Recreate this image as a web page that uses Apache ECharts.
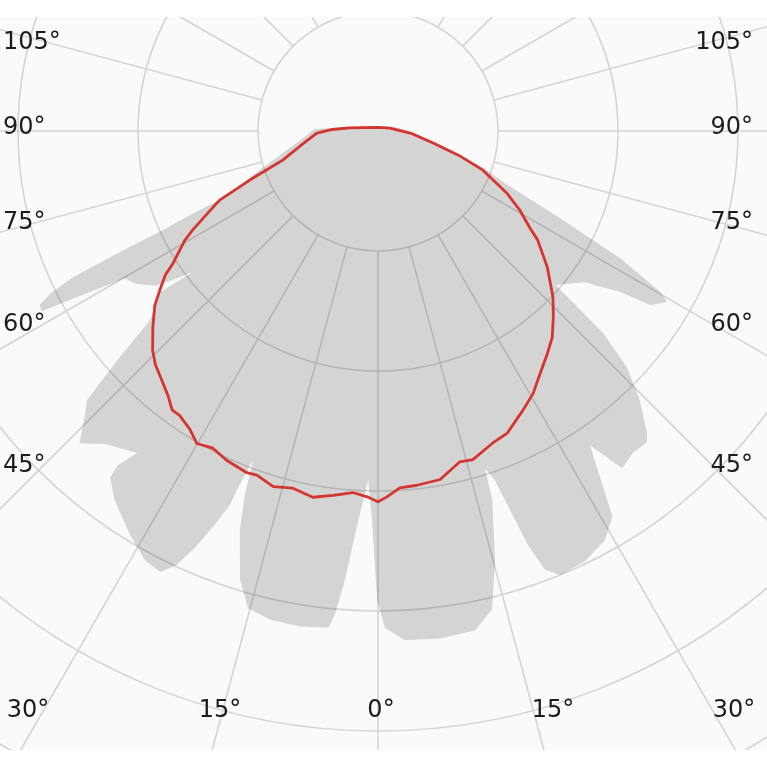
<!DOCTYPE html>
<html>
<head>
<meta charset="utf-8">
<script src="https://cdn.jsdelivr.net/npm/echarts@6/dist/echarts.min.js"></script>
<style>html,body{margin:0;padding:0;background:#fafafa}#c{width:767px;height:767px}</style>
</head>
<body>
<div id="c"></div>
<script>
// Photometric polar diagram. Angles in degrees from nadir (0 = down), right side negative.
const sideLabels = ['105°', '90°', '75°', '60°', '45°'];
const bottomLabels = ['30°', '15°', '0°', '15°', '30°'];

// Gray plane (filled)
const grayAngles = [-180,-103.2,-88.3,-79.1,-73.7,-70.4,-67.7,-64.45,-62.3,-60.3,-59.4,-57.4,-56.4,-54.8,-53.9,-49.1,-48.1,-46.5,-44.2,-41.7,-40.8,-38.4,-35.9,-34.0,-31.3,-29.0,-25.65,-22.3,-20.8,-19.9,-19.2,-18.5,-17.6,-17.2,-15.25,-13.4,-11.0,-7.0,-3.0,-0.8,0.1,0.9,1.6,2.9,4.2,5.1,5.7,9.0,12.5,15.25,17.1,19.1,20.1,20.8,21.5,21.6,22.5,23.7,25.0,26.3,28.5,31.5,35.5,37.7,37.9,36.8,41.1,43.7,45.1,47.25,48.7,50.3,53.55,52.7,54.1,55.2,57.8,59.8,60.8,61.8,62.8,63.6,64.4,64.9,65.3,65.9,66.7,70.2,76.2,83.4,91.8,98.1,180];
const grayValues = [4,15,28,48,71,95,114,168,228,271,280,269,242,224,214,196,252,286,313,337,343,342,347,316,376,390,398,400,391,367,334,307,295,322,371,410,424,426,425,414,391,324,291,325,375,405,416,418,417,412,391,352,323,293,323,335,355,379,400,410,407,395,378,365,353,335,346,360,347,330,289,247,226,194,212,226,239,244,275,318,317,305,282,237,197,172,139,113,84,65,53,24,4];

// Red plane (line)
const redAngles = [-180,-104,-86.4,-77.7,-73.3,-69.6,-64.3,-60.9,-57.5,-55.7,-51.2,-46.5,-43.3,-40.2,-37.3,-33.8,-30.6,-27.5,-23.1,-20.2,-16.1,-13.9,-10.1,-6.3,-3.5,-1.4,0,1.7,4.0,7.0,10.1,13.4,16.4,19.4,21.0,24.7,27.5,30.1,32.2,34.9,36.4,38.3,40.9,43.6,45.8,48.9,52.0,53.9,55.9,57.2,60.5,61.9,65.6,66.4,69.1,73.0,79.1,88.1,91.9,96.1,180];
const redValues = [3,10,27,47,70,93,119,135,150,161,181,201,213,225,233,243,254,262,274,277,285,284,295,297,298,305,309,305,302,306,310,306,309,304,305,302,298,301,294,289,289,282,275,269,262,249,236,225,214,203,185,175,149,144,114,83,66,51,38,24,3];

const CENTER = [378, 131];
const OUTER = 840;
const RMAX = 700;

const chart = echarts.init(document.getElementById('c'), null, {renderer: 'canvas'});
const toData = (angles, values) => angles.map((a, i) => [values[i], a]);

const gridLine = {show: true, lineStyle: {color: '#d4d4d4', width: 1.6}};
const textFont = '24px "DejaVu Sans"';

const graphics = [
  {type: 'rect', shape: {x: 0, y: 0, width: 767, height: 17}, style: {fill: '#ffffff'}, z: 100},
  {type: 'rect', shape: {x: 0, y: 750, width: 767, height: 17}, style: {fill: '#ffffff'}, z: 100}
];
const sideY = [43, 128, 223, 325, 466];
sideLabels.forEach((t, i) => {
  graphics.push({type: 'text', z: 110, style: {text: t, x: 3, y: sideY[i], font: textFont, fill: '#1c1c1c', textAlign: 'left', textVerticalAlign: 'middle', verticalAlign: 'middle'}});
  graphics.push({type: 'text', z: 110, style: {text: t, x: 753, y: sideY[i], font: textFont, fill: '#1c1c1c', textAlign: 'right', textVerticalAlign: 'middle', verticalAlign: 'middle'}});
});
const bottomX = [28, 220, 381, 553, 734];
bottomLabels.forEach((t, i) => {
  graphics.push({type: 'text', z: 110, style: {text: t, x: bottomX[i], y: 711, font: textFont, fill: '#1c1c1c', textAlign: 'center', textVerticalAlign: 'middle', verticalAlign: 'middle'}});
});

chart.setOption({
  backgroundColor: '#fafafa',
  animation: false,
  polar: [
    {center: CENTER, radius: [0, OUTER]},
    {center: CENTER, radius: [120, OUTER]}
  ],
  angleAxis: [
    {polarIndex: 0, type: 'value', min: -180, max: 180, startAngle: 90, clockwise: true, show: false},
    {polarIndex: 1, type: 'value', min: -180, max: 180, interval: 15, startAngle: 90, clockwise: true, z: 0,
     axisLine: {show: false}, axisTick: {show: false}, axisLabel: {show: false}, splitLine: gridLine}
  ],
  radiusAxis: [
    {polarIndex: 0, type: 'value', min: 0, max: RMAX, show: false},
    {polarIndex: 1, type: 'value', min: 100, max: RMAX, interval: 100, z: 0,
     axisLine: {show: false}, axisTick: {show: false}, axisLabel: {show: false}, splitLine: gridLine}
  ],
  series: [
    {type: 'line', coordinateSystem: 'polar', polarIndex: 0, data: toData(grayAngles, grayValues),
     symbol: 'none', silent: true, z: 2, lineStyle: {opacity: 0, width: 0},
     areaStyle: {color: 'rgba(0,0,0,0.15)', opacity: 1}},
    {type: 'line', coordinateSystem: 'polar', polarIndex: 0, data: toData(redAngles, redValues),
     symbol: 'none', silent: true, z: 3, lineStyle: {color: '#d4352f', width: 2.8}}
  ],
  graphic: graphics
});
</script>
</body>
</html>
